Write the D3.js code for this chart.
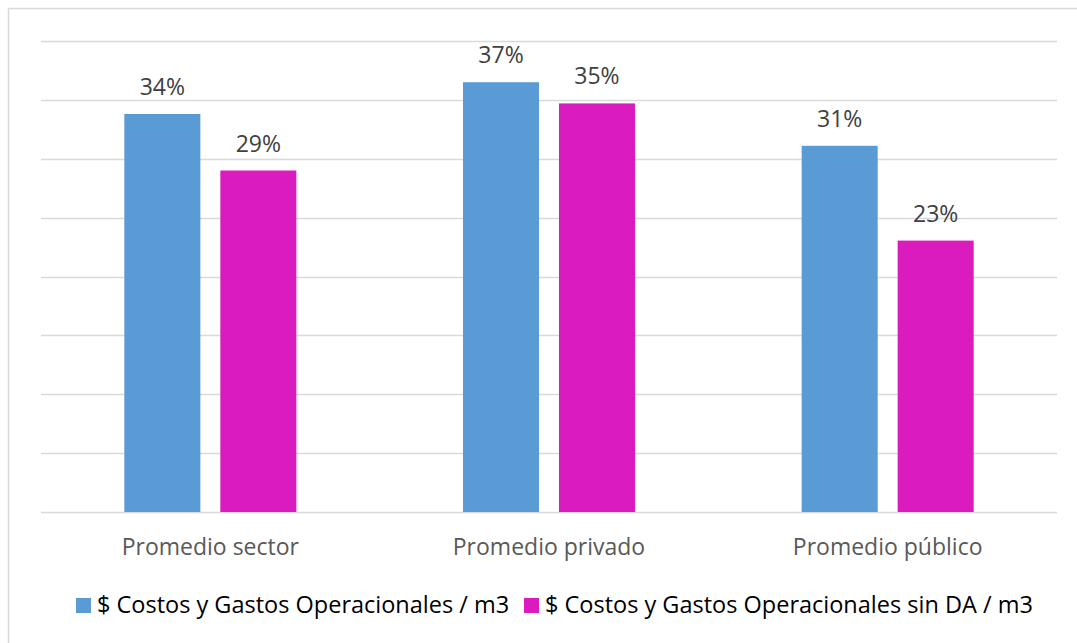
<!doctype html>
<html>
<head>
<meta charset="utf-8">
<script src="https://d3js.org/d3.v7.min.js"></script>
<style>
  body { margin: 0; background: #fff; }
  text { font-family: "Open Sans", "Liberation Sans", sans-serif; }
</style>
</head>
<body>
<svg width="1077" height="643"></svg>
<script>
// data
var categories = ["Promedio sector", "Promedio privado", "Promedio público"];
var seriesNames = ["$ Costos y Gastos Operacionales / m3", "$ Costos y Gastos Operacionales sin DA / m3"];
var costos = [0.338, 0.365, 0.311];
var costosSinDA = [0.290, 0.347, 0.2305];
var yTicks = [0, 0.05, 0.10, 0.15, 0.20, 0.25, 0.30, 0.35, 0.40];
var colors = ["#5B9BD5", "#DA1CBE"];

var svg = d3.select("svg");

// outer chart border
svg.append("rect")
   .attr("x", 8.5).attr("y", 8.5)
   .attr("width", 1080).attr("height", 650)
   .style("fill", "none")
   .style("stroke", "#d9d9d9")
   .style("stroke-width", 1.5);

var plotLeft = 41, plotRight = 1057, plotTop = 41, plotBottom = 512;

var x0 = d3.scaleBand().domain(categories).range([plotLeft, plotRight]);
var x1 = d3.scaleBand().domain([0, 1]).range([0, x0.bandwidth()]).paddingInner(0.208).paddingOuter(0.868);
var y = d3.scaleLinear().domain([0, 0.40]).range([plotBottom, plotTop]);

// gridlines
svg.append("g")
   .selectAll("line")
   .data(yTicks)
   .enter()
   .append("line")
   .attr("x1", plotLeft).attr("x2", plotRight)
   .attr("y1", function(d) { return Math.round(y(d)) + 0.5; })
   .attr("y2", function(d) { return Math.round(y(d)) + 0.5; })
   .style("stroke", "#d9d9d9")
   .style("stroke-width", 1.5);

var rows = categories.map(function(c, i) { return { cat: c, vals: [costos[i], costosSinDA[i]] }; });

var groups = svg.append("g")
   .selectAll("g")
   .data(rows)
   .enter()
   .append("g")
   .attr("transform", function(d) { return "translate(" + x0(d.cat) + ",0)"; });

groups.selectAll("rect")
   .data(function(d) { return d.vals; })
   .enter()
   .append("rect")
   .attr("x", function(d, i) { return x1(i); })
   .attr("width", x1.bandwidth())
   .attr("y", function(d) { return y(d); })
   .attr("height", function(d) { return plotBottom - y(d); })
   .style("fill", function(d, i) { return colors[i]; });

groups.selectAll("text.lbl")
   .data(function(d) { return d.vals; })
   .enter()
   .append("text")
   .attr("class", "lbl")
   .attr("x", function(d, i) { return x1(i) + x1.bandwidth() / 2; })
   .attr("y", function(d) { return y(d) - 19; })
   .attr("text-anchor", "middle")
   .style("font-size", "23px")
   .style("fill", "#404040")
   .text(function(d) { return Math.round(d * 100) + "%"; });

// category axis labels
svg.append("g")
   .selectAll("text")
   .data(categories)
   .enter()
   .append("text")
   .attr("x", function(d) { return x0(d) + x0.bandwidth() / 2; })
   .attr("y", 555)
   .attr("text-anchor", "middle")
   .style("font-size", "23px")
   .style("fill", "#595959")
   .text(function(d) { return d; });

// legend
var legendX = [76, 524];
var legend = svg.append("g")
   .selectAll("g")
   .data(seriesNames)
   .enter()
   .append("g")
   .attr("transform", function(d, i) { return "translate(" + legendX[i] + ",598)"; });

legend.append("rect")
   .attr("width", 15).attr("height", 15)
   .style("fill", function(d, i) { return colors[i]; });

legend.append("text")
   .attr("x", 21)
   .attr("y", 15)
   .style("font-size", "23.5px")
   .style("fill", "#000")
   .text(function(d) { return d; });
</script>
</body>
</html>
